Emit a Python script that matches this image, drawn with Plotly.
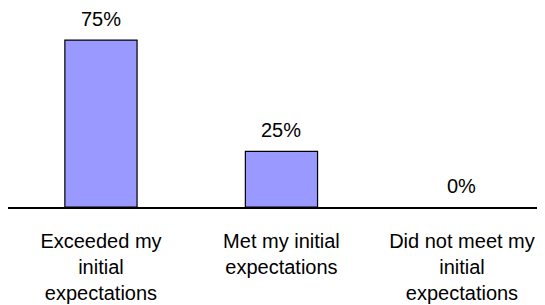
import plotly.graph_objects as go

categories = ["Exceeded my<br>initial<br>expectations",
              "Met my initial<br>expectations",
              "Did not meet my<br>initial<br>expectations"]
values = [75, 25, 0]
value_labels = ["75%", "25%", "0%"]

FONT = "Arial, Liberation Sans, sans-serif"

fig = go.Figure()
fig.add_trace(go.Bar(
    x=[0, 1, 2], y=values, width=0.4,
    marker=dict(color="#9999FF",
                line=dict(color="black", width=[1.2 if v > 0 else 0 for v in values])),
    hoverinfo="skip",
))

for i, (v, lab) in enumerate(zip(values, value_labels)):
    fig.add_annotation(x=i, y=v, text=lab, showarrow=False,
                       yanchor="bottom", yshift=8,
                       font=dict(family=FONT, size=20, color="black"))

fig.update_layout(
    width=545, height=305,
    margin=dict(l=0, r=8, t=0, b=106, autoexpand=False),
    paper_bgcolor="white", plot_bgcolor="white",
    showlegend=False,
    xaxis=dict(range=[-0.515, 2.46], tickmode="array", tickvals=[0, 1, 2],
               ticktext=categories, showline=True, linecolor="black",
               linewidth=1.5, ticks="", showgrid=False, zeroline=False,
               automargin=False,
               tickfont=dict(family=FONT, size=20, color="black"),
               ticklabelstandoff=15),
    yaxis=dict(range=[0, 89.4], visible=False, showgrid=False, zeroline=False,
               automargin=False),
)

fig.write_html("out.html")
